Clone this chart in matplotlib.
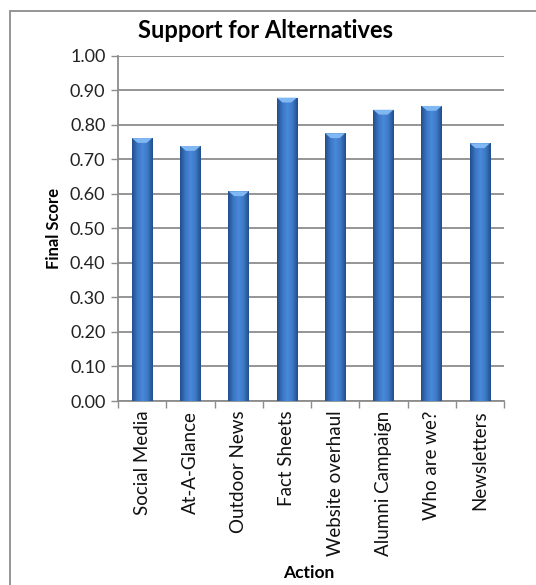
import numpy as np
import matplotlib
matplotlib.use("Agg")
from matplotlib import pyplot as plt
from matplotlib.patches import Rectangle, Polygon
from matplotlib.colors import LinearSegmentedColormap

# data
actions = ["Social Media", "At-A-Glance", "Outdoor News", "Fact Sheets",
           "Website overhaul", "Alumni Campaign", "Who are we?", "Newsletters"]
scores = [0.761, 0.738, 0.607, 0.878, 0.775, 0.843, 0.854, 0.746]
yticks = [0.0, 0.1, 0.2, 0.3, 0.4, 0.5, 0.6, 0.7, 0.8, 0.9, 1.0]

plt.rcParams['font.family'] = ['Lato', 'DejaVu Sans']

fig = plt.figure(figsize=(5.36, 5.85), dpi=100)
W, H = 536, 585

# outer chart frame (cropped at right and bottom like the reference)
frame = Rectangle((10 / W, -0.05), 1.0, 1 - 11 / H + 0.05, transform=fig.transFigure,
                  fill=False, edgecolor="#8c8c8c", linewidth=1.3)
fig.add_artist(frame)

ax = fig.add_axes([118 / W, 1 - 401 / H, 386 / W, (401 - 55.5) / H])

x = np.arange(len(actions))
bw = 0.42
bars = ax.bar(x, scores, width=bw, color="#3a74c0", zorder=2, linewidth=0)

# cylinder-like shading for each bar
cmap = LinearSegmentedColormap.from_list(
    "cyl", ["#224e8a", "#3a75c4", "#4a8ad8", "#3d79c6", "#224e8a"])
grad = np.linspace(0, 1, 64).reshape(1, -1)
for b in bars:
    x0, w, h = b.get_x(), b.get_width(), b.get_height()
    im = ax.imshow(grad, cmap=cmap, aspect="auto", extent=[x0, x0 + w, 0, h],
                   zorder=3, interpolation="bilinear")
    im.set_clip_path(b)
    cap = Polygon([[x0, h], [x0 + w, h], [x0 + w * 0.72, h - 0.014],
                   [x0 + w * 0.28, h - 0.014]], closed=True,
                  facecolor="#80b8f4", edgecolor="none", zorder=4)
    ax.add_patch(cap)

ax.set_xlim(-0.5, len(actions) - 0.5)
ax.set_ylim(0, 1.0)
ax.set_yticks(yticks)
ax.set_yticklabels(["%.2f" % v for v in yticks], fontsize=13, color="#222222")
ax.set_xticks(x)
ax.set_xticklabels(actions, rotation=90, fontsize=13.5, color="#111111")
ax.tick_params(axis="x", length=0, pad=7)
ax.tick_params(axis="y", length=5, width=1.0, color="#8c8c8c", pad=4)
# x tick marks between categories
ax.set_xticks(np.arange(len(actions) + 1) - 0.5, minor=True)
ax.tick_params(axis="x", which="minor", length=5, width=1.0, color="#8c8c8c")

ax.grid(axis="y", color="#8c8c8c", linewidth=1.3, zorder=0)
ax.set_axisbelow(True)
for s in ["top", "right"]:
    ax.spines[s].set_visible(False)
for s in ["left", "bottom"]:
    ax.spines[s].set_color("#8c8c8c")
    ax.spines[s].set_linewidth(1.3)

ax.set_ylabel("Final Score", fontsize=12, fontweight="bold", labelpad=6)
fig.text(309 / W, 1 - 573 / H, "Action", fontsize=12.5, fontweight="bold",
         ha="center", va="center")
fig.text(265 / W, 1 - 31 / H, "Support for Alternatives", fontsize=17,
         fontweight="bold", ha="center", va="center")

fig.savefig("out.png", dpi=100)
